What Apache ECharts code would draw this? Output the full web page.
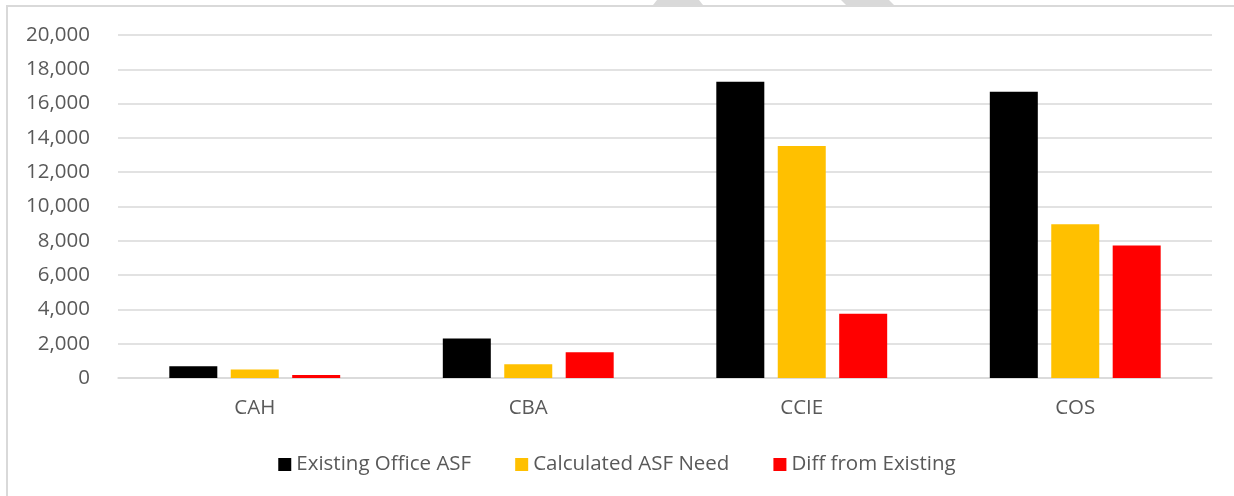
<!DOCTYPE html>
<html>
<head>
<meta charset="utf-8">
<script src="https://cdn.jsdelivr.net/npm/echarts@6/dist/echarts.min.js"></script>
<style>
  html, body { margin: 0; padding: 0; background: #fff; }
  #chart { width: 1234px; height: 496px; }
</style>
</head>
<body>
<div id="chart"></div>
<script>
// data
var categories = ['CAH', 'CBA', 'CCIE', 'COS'];
var existingAsf = [680, 2300, 17270, 16690];
var calculatedAsf = [500, 800, 13530, 8970];
var diffExisting = [180, 1500, 3740, 7720];
var seriesNames = ['Existing Office ASF', 'Calculated ASF Need', 'Diff from Existing'];
var seriesColors = ['#000000', '#FFC000', '#FF0000'];

var myChart = echarts.init(document.getElementById('chart'));
var font = '"Open Sans", "Noto Sans", sans-serif';
var fs = 20.5;

function makeBar(name, data, color) {
    return {
        name: name,
        type: 'bar',
        data: data,
        barWidth: 48,
        barGap: '28%',
        itemStyle: { color: color }
    };
}

var option = {
    animation: false,
    textStyle: { fontFamily: font },
    grid: { left: 118, right: 22, top: 35, bottom: 118 },
    legend: {
        top: 449,
        left: 'center',
        itemWidth: 13,
        itemHeight: 13,
        itemGap: 44,
        icon: 'rect',
        textStyle: { color: '#595959', fontSize: fs, fontFamily: font },
        data: seriesNames
    },
    xAxis: {
        type: 'category',
        data: categories,
        axisTick: { show: false },
        axisLine: { lineStyle: { color: '#d9d9d9', width: 1.5 } },
        axisLabel: { color: '#595959', fontSize: fs, margin: 20, fontFamily: font }
    },
    yAxis: {
        type: 'value',
        min: 0,
        max: 20000,
        interval: 2000,
        axisLine: { show: false },
        axisTick: { show: false },
        axisLabel: {
            color: '#595959',
            fontSize: fs,
            margin: 28,
            fontFamily: font,
            formatter: function (v) { return v.toLocaleString('en-US'); }
        },
        splitLine: { lineStyle: { color: '#d9d9d9', width: 1.5 } }
    },
    graphic: [
        // chart frame
        { type: 'rect', shape: { x: 7, y: 6, width: 1400, height: 700 },
          style: { fill: 'none', stroke: '#d9d9d9', lineWidth: 2 }, z: -1 },
        // bits of the page watermark peeking in above the frame
        { type: 'polygon', shape: { points: [[657, 0], [699, 0], [703, 5], [653, 5]] },
          style: { fill: '#d9d9d9' } },
        { type: 'polygon', shape: { points: [[841, 0], [889, 0], [894, 5], [846, 5]] },
          style: { fill: '#d9d9d9' } }
    ],
    series: [
        makeBar(seriesNames[0], existingAsf, seriesColors[0]),
        makeBar(seriesNames[1], calculatedAsf, seriesColors[1]),
        makeBar(seriesNames[2], diffExisting, seriesColors[2])
    ]
};
myChart.setOption(option);
</script>
</body>
</html>
